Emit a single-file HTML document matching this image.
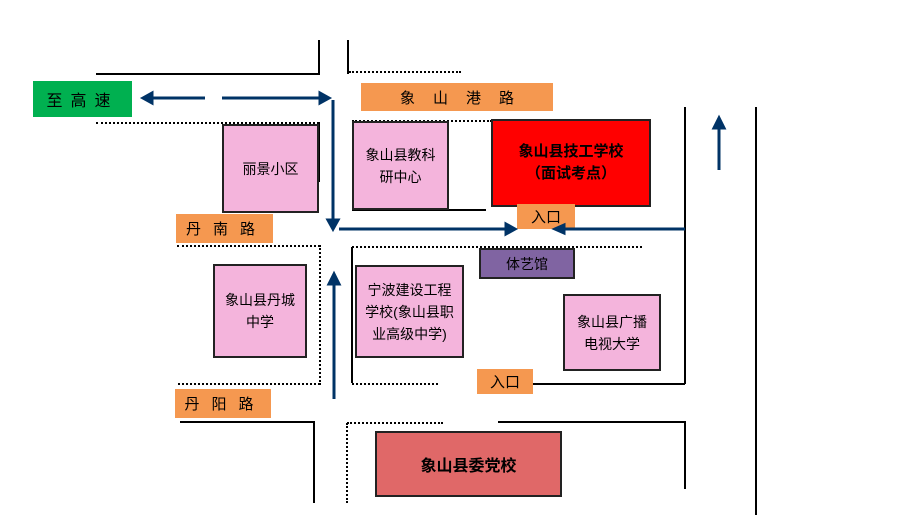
<!DOCTYPE html>
<html><head><meta charset="utf-8"><style>
body{margin:0;width:917px;height:515px;background:#fff;position:relative;overflow:hidden;font-family:"Liberation Sans","Noto Sans CJK SC",sans-serif;}
.a{position:absolute;box-sizing:border-box;}
.h{position:absolute;height:0;border-top:2px solid #000;}
.hd{position:absolute;height:0;border-top:2px dotted #000;}
.v{position:absolute;width:0;border-left:2px solid #000;}
.vd{position:absolute;width:0;border-left:2px dotted #000;}
.pink{background:#f4b4dc;border:2px solid #222;display:flex;align-items:center;justify-content:center;text-align:center;font-size:14px;line-height:22px;color:#000;}
.or{background:#f59850;display:flex;align-items:center;justify-content:center;font-size:15px;letter-spacing:12px;white-space:nowrap;color:#000;}
</style></head><body>
<div class="v" style="left:318px;top:40px;height:35px"></div>
<div class="h" style="left:96px;top:73px;width:224px"></div>
<div class="v" style="left:347px;top:40px;height:34px"></div>
<div class="hd" style="left:349px;top:71px;width:112px"></div>
<div class="hd" style="left:96px;top:122px;width:223px"></div>
<div class="v" style="left:318px;top:122px;height:60px"></div>
<div class="hd" style="left:352px;top:120px;width:140px"></div>
<div class="h" style="left:352px;top:209px;width:134px"></div>
<div class="v" style="left:684px;top:107px;height:277px"></div>
<div class="v" style="left:755px;top:107px;height:408px"></div>
<div class="hd" style="left:177px;top:245px;width:143px"></div>
<div class="vd" style="left:319px;top:245px;height:140px"></div>
<div class="hd" style="left:178px;top:383px;width:142px"></div>
<div class="v" style="left:351px;top:247px;height:136px"></div>
<div class="hd" style="left:352px;top:246px;width:290px"></div>
<div class="hd" style="left:352px;top:383px;width:86px"></div>
<div class="h" style="left:532px;top:383px;width:153px"></div>
<div class="h" style="left:180px;top:421px;width:135px"></div>
<div class="v" style="left:313px;top:421px;height:82px"></div>
<div class="vd" style="left:346px;top:423px;height:80px"></div>
<div class="hd" style="left:347px;top:422px;width:96px"></div>
<div class="h" style="left:498px;top:421px;width:187px"></div>
<div class="v" style="left:684px;top:421px;height:68px"></div>

<div class="a" style="left:33px;top:81px;width:99px;height:36px;background:#00b050;display:flex;align-items:center;justify-content:center;font-size:16px;letter-spacing:8px;white-space:nowrap;">至高速</div>
<div class="a or" style="left:361px;top:83px;width:192px;height:28px;letter-spacing:18px;padding-left:18px">象山港路</div>
<div class="a or" style="left:176px;top:214px;width:97px;height:29px;padding-left:4px">丹南路</div>
<div class="a or" style="left:175px;top:389px;width:96px;height:29px;padding-left:4px">丹阳路</div>
<div class="a pink" style="left:222px;top:124px;width:97px;height:89px">丽景小区</div>
<div class="a pink" style="left:352px;top:121px;width:97px;height:89px">象山县教科<br>研中心</div>
<div class="a" style="left:491px;top:119px;width:160px;height:88px;background:#f00;border:2px solid #222;display:flex;align-items:center;justify-content:center;text-align:center;font-weight:bold;font-size:15px;line-height:22px;">象山县技工学校<br>（面试考点）</div>
<div class="a or" style="left:517px;top:204px;width:58px;height:25px;letter-spacing:0">入口</div>
<div class="a" style="left:479px;top:248px;width:96px;height:31px;background:#8064a2;border:2px solid #222;display:flex;align-items:center;justify-content:center;font-size:14px;">体艺馆</div>
<div class="a pink" style="left:213px;top:264px;width:94px;height:94px">象山县丹城<br>中学</div>
<div class="a pink" style="left:355px;top:265px;width:109px;height:93px">宁波建设工程<br>学校(象山县职<br>业高级中学)</div>
<div class="a pink" style="left:563px;top:294px;width:98px;height:77px">象山县广播<br>电视大学</div>
<div class="a or" style="left:477px;top:369px;width:56px;height:25px;letter-spacing:0">入口</div>
<div class="a" style="left:375px;top:431px;width:187px;height:66px;background:#e06868;border:2px solid #222;display:flex;align-items:center;justify-content:center;font-weight:bold;font-size:16px;">象山县委党校</div>

<svg class="a" style="left:0;top:0" width="917" height="515">
<g stroke="#003366" stroke-width="3" fill="#003366">
<line x1="150" y1="98" x2="205" y2="98"/><polygon points="143,98 152,93 152,103"/>
<line x1="222" y1="98" x2="322" y2="98"/><polygon points="329,98 320,93 320,103"/>
<line x1="333" y1="100" x2="333" y2="222"/><polygon points="333,229 328,220 338,220"/>
<line x1="339" y1="229" x2="508" y2="229"/><polygon points="515,229 506,224 506,234"/>
<line x1="562" y1="229" x2="685" y2="229"/><polygon points="555,229 564,225 564,233"/>
<line x1="334" y1="282" x2="334" y2="399"/><polygon points="334,274 329,284 339,284"/>
<line x1="719" y1="126" x2="719" y2="170"/><polygon points="719,118 714,128 724,128"/>
</g></svg>
</body></html>
